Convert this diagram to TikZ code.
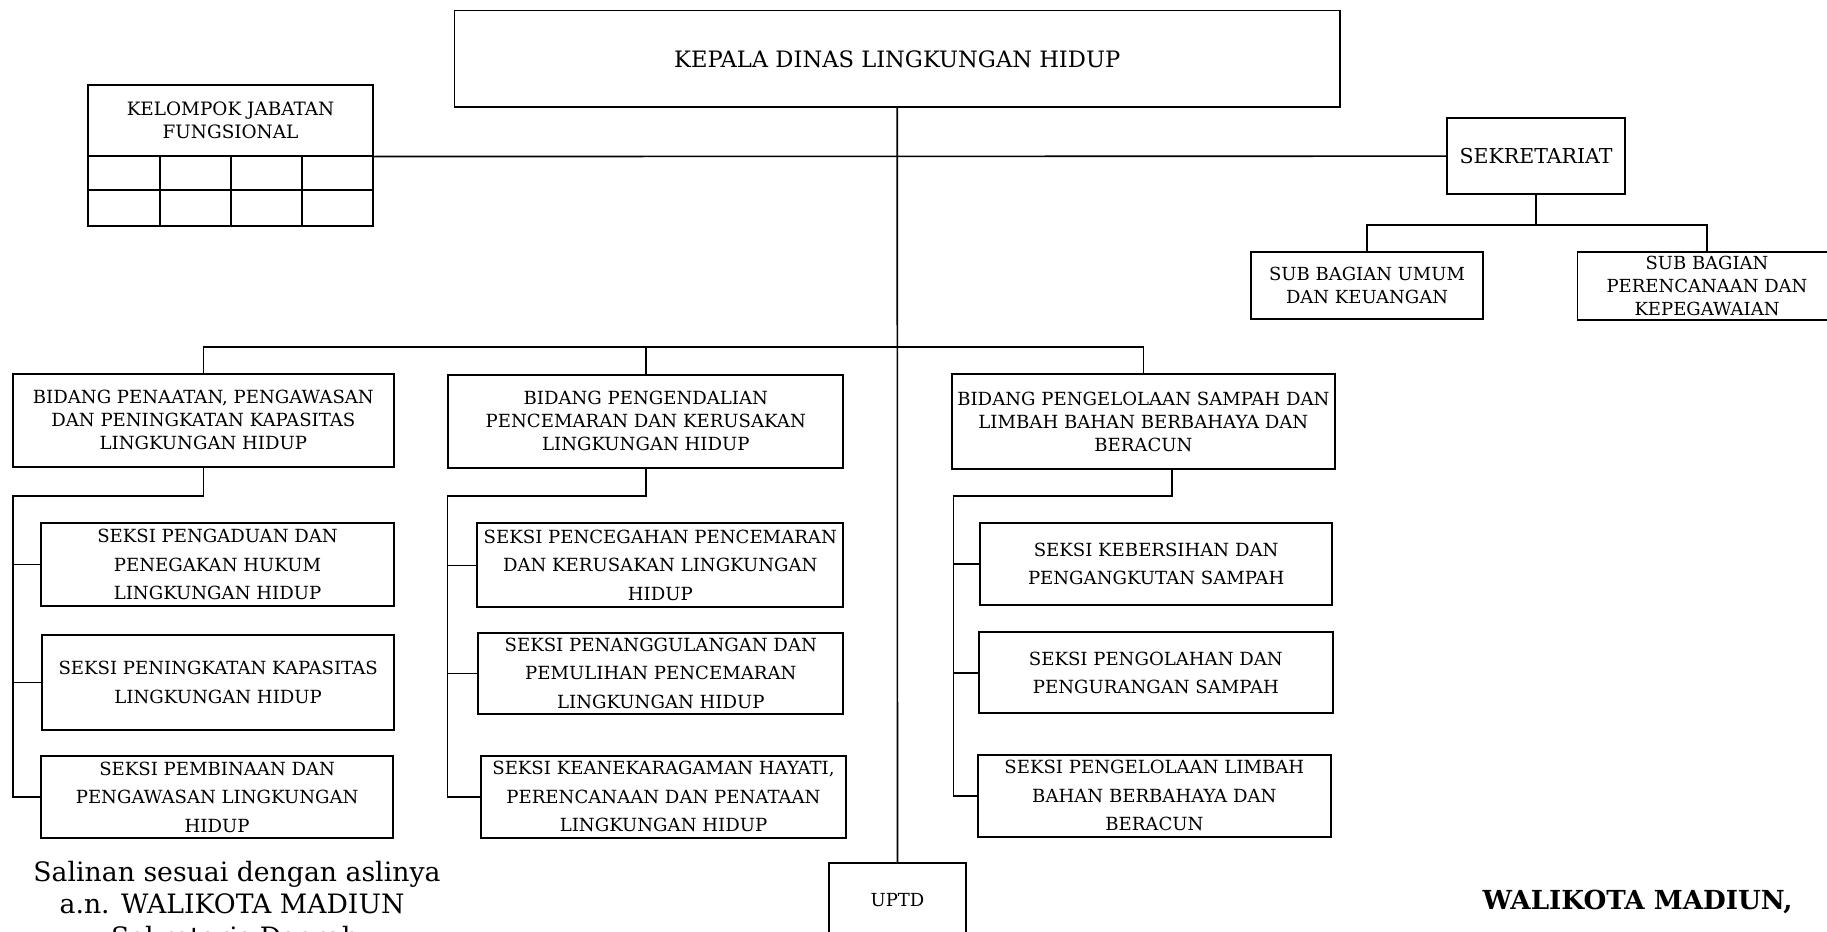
\documentclass[tikz,border=0pt]{standalone}
\usepackage{fontspec}
\setmainfont{DejaVu Serif}
\begin{document}
\begin{tikzpicture}[x=1pt,y=-1pt,
  orgbox/.style={draw, line width=1.7pt, inner sep=0pt, align=center},
  bidfont/.style={font=\fontsize{18.1pt}{23pt}\selectfont},
  seksifont/.style={font=\fontsize{18.1pt}{28.5pt}\selectfont},
  subfont/.style={font=\fontsize{18pt}{22.8pt}\selectfont},
  link/.style={line width=1.6pt},
  foot/.style={anchor=base, inner sep=0pt, font=\fontsize{26.7pt}{30pt}\selectfont}]
\useasboundingbox (0,0) rectangle (1827,931);
\clip (0,0) rectangle (1827,931);

% top level
\node[orgbox, font=\fontsize{22.6pt}{27pt}\selectfont, minimum width=885.6pt, minimum height=96.7pt] (kepala) at (897.2,58.85) {KEPALA DINAS LINGKUNGAN HIDUP};
\node[orgbox, font=\fontsize{18.4pt}{23.3pt}\selectfont, minimum width=285.3pt, minimum height=70.7pt] (kjf) at (230.5,120.35) {KELOMPOK JABATAN\\FUNGSIONAL};
\draw[line width=1.7pt] (87.9,155.7) rectangle (373.2,226);
\draw[line width=1.7pt] (87.9,190.3) -- (373.2,190.3)
  (160.3,155.7) -- (160.3,226) (230.8,155.7) -- (230.8,226) (302.2,155.7) -- (302.2,226);
\node[orgbox, font=\fontsize{20.5pt}{24pt}\selectfont, minimum width=178.4pt, minimum height=75.7pt] (sek) at (1536,156.15) {SEKRETARIAT};
\node[orgbox, subfont, minimum width=231.6pt, minimum height=67.6pt] (sb1) at (1367,285.5) {SUB BAGIAN UMUM\\DAN KEUANGAN};
\node[orgbox, subfont, minimum width=258.8pt, minimum height=68.3pt] (sb2) at (1707,285.85) {SUB BAGIAN\\PERENCANAAN DAN\\KEPEGAWAIAN};

% bidang
\node[orgbox, bidfont, minimum width=381.3pt, minimum height=92.7pt] (bid1) at (203.35,420.35) {BIDANG PENAATAN, PENGAWASAN\\DAN PENINGKATAN KAPASITAS\\LINGKUNGAN HIDUP};
\node[orgbox, bidfont, minimum width=395pt, minimum height=92.7pt] (bid2) at (645.8,421.35) {BIDANG PENGENDALIAN\\PENCEMARAN DAN KERUSAKAN\\LINGKUNGAN HIDUP};
\node[orgbox, bidfont, minimum width=383.3pt, minimum height=95pt] (bid3) at (1143.35,421.5) {BIDANG PENGELOLAAN SAMPAH DAN\\LIMBAH BAHAN BERBAHAYA DAN\\BERACUN};

% seksi column 1
\node[orgbox, seksifont, minimum width=353pt, minimum height=82.4pt] (s11) at (217.5,564.5) {SEKSI PENGADUAN DAN\\PENEGAKAN HUKUM\\LINGKUNGAN HIDUP};
\node[orgbox, seksifont, minimum width=351.7pt, minimum height=95pt] (s12) at (218.15,682.5) {SEKSI PENINGKATAN KAPASITAS\\LINGKUNGAN HIDUP};
\node[orgbox, seksifont, minimum width=352.3pt, minimum height=82.3pt] (s13) at (217.15,797.15) {SEKSI PEMBINAAN DAN\\PENGAWASAN LINGKUNGAN\\HIDUP};
% seksi column 2
\node[orgbox, seksifont, minimum width=366pt, minimum height=84pt] (s21) at (660.3,565.3) {SEKSI PENCEGAHAN PENCEMARAN\\DAN KERUSAKAN LINGKUNGAN\\HIDUP};
\node[orgbox, seksifont, minimum width=365pt, minimum height=81.3pt] (s22) at (660.8,673.35) {SEKSI PENANGGULANGAN DAN\\PEMULIHAN PENCEMARAN\\LINGKUNGAN HIDUP};
\node[orgbox, seksifont, minimum width=365pt, minimum height=81.7pt] (s23) at (663.5,796.85) {SEKSI KEANEKARAGAMAN HAYATI,\\PERENCANAAN DAN PENATAAN\\LINGKUNGAN HIDUP};
% seksi column 3
\node[orgbox, seksifont, minimum width=352.3pt, minimum height=81.7pt] (s31) at (1156.15,564.15) {SEKSI KEBERSIHAN DAN\\PENGANGKUTAN SAMPAH};
\node[orgbox, seksifont, minimum width=353.7pt, minimum height=81pt] (s32) at (1155.85,672.8) {SEKSI PENGOLAHAN DAN\\PENGURANGAN SAMPAH};
\node[orgbox, seksifont, minimum width=353.3pt, minimum height=81.7pt] (s33) at (1154.35,795.85) {SEKSI PENGELOLAAN LIMBAH\\BAHAN BERBAHAYA DAN\\BERACUN};

% UPTD
\node[orgbox, font=\fontsize{18pt}{21pt}\selectfont, minimum width=136.4pt, minimum height=73.4pt] (uptd) at (897.5,900) {UPTD};

% connectors
\coordinate (bus) at (897.2,346.7);
\coordinate (c1) at (12.7,495.7);
\coordinate (c2) at (447.3,496);
\coordinate (c3) at (953.3,496);
\draw[link] (kepala.south) -- (uptd.north);
\draw[link] (kjf.south east) -- (sek.west);
\draw[link] (sek.south) -- ++(0,30) -| (sb1.north);
\draw[link] (sek.south) -- ++(0,30) -| (sb2.north);
\draw[link] (bid1.north) |- (bus) -| (bid3.north);
\draw[link] (bid2.north) -- (bid2.north |- bus);

\draw[link] (bid1.south) |- (c1) -- (c1 |- s13.west) -- (s13.west);
\draw[link] (c1 |- s11.west) -- (s11.west);
\draw[link] (c1 |- s12.west) -- (s12.west);

\draw[link] (bid2.south) |- (c2) -- (c2 |- s23.west) -- (s23.west);
\draw[link] (c2 |- s21.west) -- (s21.west);
\draw[link] (c2 |- s22.west) -- (s22.west);

\draw[link] ([xshift=28.4pt]bid3.south) |- (c3) -- (c3 |- s33.west) -- (s33.west);
\draw[link] (c3 |- s31.west) -- (s31.west);
\draw[link] (c3 |- s32.west) -- (s32.west);

% footer texts
\node[foot] (f1) at (237,881.7) {Salinan sesuai dengan aslinya};
\node[foot] (f2) at (232,913.3) {a.n. WALIKOTA MADIUN};
\node[foot] (f3) at (235,946) {Sekretaris Daerah};
\node[foot, font=\fontsize{26.2pt}{29pt}\selectfont\bfseries] (wk) at (1637.5,909.3) {WALIKOTA MADIUN,};
\end{tikzpicture}
\end{document}
